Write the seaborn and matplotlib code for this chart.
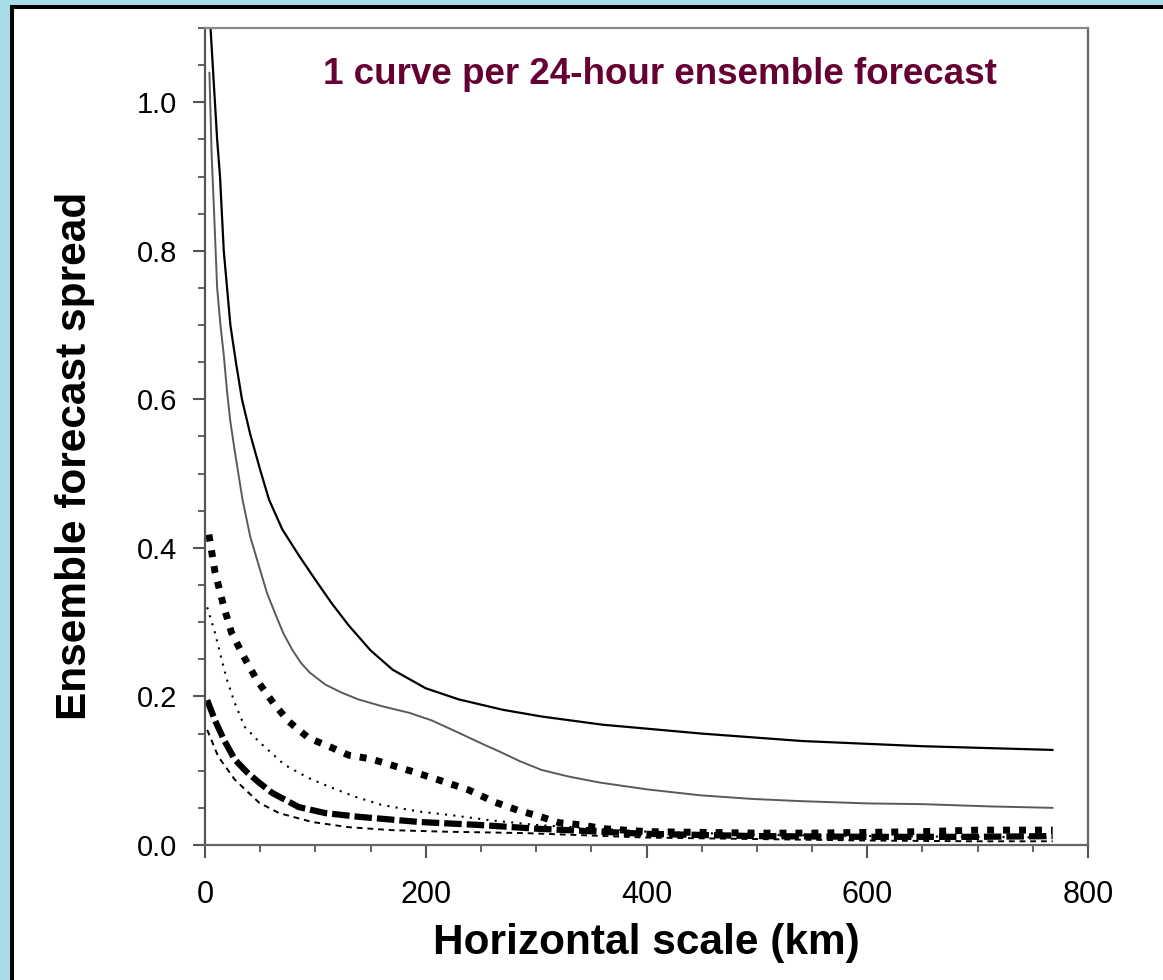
import numpy as np
import pandas as pd
import matplotlib
matplotlib.use("Agg")
import matplotlib.pyplot as plt
from matplotlib.patches import Rectangle
from matplotlib.ticker import MultipleLocator
import seaborn as sns

# ---- data ----
c1_x = [5, 7, 9, 11, 13.6, 17, 20, 23, 28, 33.5, 41, 50, 58, 70, 85, 100, 115, 130, 150, 170, 200, 230, 270, 305, 360, 450, 541, 650, 768]
c1_y = [1.10, 1.05, 1.00, 0.95, 0.90, 0.80, 0.75, 0.70, 0.65, 0.60, 0.553, 0.505, 0.465, 0.425, 0.39, 0.357, 0.325, 0.296, 0.262, 0.236, 0.211, 0.196, 0.182, 0.173, 0.162, 0.150, 0.140, 0.133, 0.128]

c2_x = [4, 6, 8, 11, 14, 17, 20, 23, 27, 34, 41, 49, 56, 64, 71, 79, 87, 95, 109, 124, 139, 160, 185, 205, 230, 250, 268, 285, 305, 330, 358, 400, 448, 496, 541, 600, 650, 710, 768]
c2_y = [1.04, 0.93, 0.86, 0.75, 0.70, 0.66, 0.61, 0.57, 0.53, 0.465, 0.415, 0.375, 0.34, 0.31, 0.285, 0.263, 0.245, 0.232, 0.216, 0.205, 0.196, 0.187, 0.178, 0.168, 0.151, 0.137, 0.125, 0.113, 0.101, 0.092, 0.084, 0.075, 0.067, 0.062, 0.059, 0.056, 0.055, 0.052, 0.050]

c3_x = [3.5, 9, 17, 24, 35, 47, 62, 76, 94, 115, 130, 150, 168, 190, 217, 239, 262, 283, 302, 321, 341, 361, 400, 450, 500, 550, 600, 650, 700, 768]
c3_y = [0.418, 0.368, 0.321, 0.286, 0.254, 0.222, 0.191, 0.166, 0.144, 0.131, 0.121, 0.116, 0.108, 0.098, 0.085, 0.074, 0.058, 0.047, 0.039, 0.030, 0.027, 0.022, 0.018, 0.017, 0.016, 0.016, 0.017, 0.018, 0.020, 0.020]

c4_x = [2, 9, 15, 20, 27, 36, 49, 72, 94, 115, 136, 160, 194, 224, 260, 300, 400, 500, 600, 700, 768]
c4_y = [0.32, 0.286, 0.25, 0.222, 0.191, 0.159, 0.139, 0.108, 0.090, 0.077, 0.065, 0.054, 0.045, 0.040, 0.033, 0.027, 0.018, 0.014, 0.012, 0.011, 0.010]

c5_x = [2, 9, 17, 27, 38, 49, 61, 85, 109, 139, 194, 248, 300, 400, 500, 600, 700, 768]
c5_y = [0.195, 0.168, 0.142, 0.115, 0.098, 0.084, 0.070, 0.051, 0.043, 0.038, 0.031, 0.027, 0.022, 0.015, 0.012, 0.011, 0.011, 0.012]

c6_x = [2, 12, 27, 49, 67, 97, 130, 169, 215, 290, 400, 500, 600, 700, 768]
c6_y = [0.155, 0.119, 0.088, 0.057, 0.043, 0.031, 0.024, 0.020, 0.018, 0.016, 0.010, 0.008, 0.006, 0.005, 0.005]

x_ticks = [0, 200, 400, 600, 800]
y_ticks = [0.0, 0.2, 0.4, 0.6, 0.8, 1.0]
y_tick_labels = ["0.0", "0.2", "0.4", "0.6", "0.8", "1.0"]

title_text = "1 curve per 24-hour ensemble forecast"
x_label = "Horizontal scale (km)"
y_label = "Ensemble forecast spread"

# ---- style ----
sns.set_style("ticks")
plt.rcParams["font.family"] = ["Liberation Sans", "DejaVu Sans"]

W, H = 1163, 980
fig = plt.figure(figsize=(W / 100, H / 100), dpi=100)
fig.patch.set_facecolor("#a9dce6")
fig.add_artist(Rectangle((12 / W, -0.1), 1.2, (1 - 7 / H) + 0.1,
                         transform=fig.transFigure, facecolor="white",
                         edgecolor="black", linewidth=2.9, zorder=0))

ax = fig.add_axes([205 / W, 135 / H, (1088 - 205) / W, (845 - 28) / H])
ax.set_facecolor("white")

curves = [
    (c1_x, c1_y, dict(color="black", lw=1.6, linestyle="-")),
    (c2_x, c2_y, dict(color="#5a5a5a", lw=1.4, linestyle="-")),
    (c3_x, c3_y, dict(color="black", lw=5.0, linestyle=(0, (1.0, 1.3)))),
    (c4_x, c4_y, dict(color="black", lw=1.5, linestyle=(0, (1, 3)))),
    (c5_x, c5_y, dict(color="black", lw=4.5, linestyle=(0, (2.8, 0.8)))),
    (c6_x, c6_y, dict(color="black", lw=1.4, linestyle=(0, (3, 2.5)))),
]
for xs, ys, kw in curves:
    df = pd.DataFrame({"x": xs, "y": ys})
    sns.lineplot(data=df, x="x", y="y", ax=ax, sort=False, estimator=None, **kw)

ax.set_xlim(0, 800)
ax.set_ylim(0, 1.1)
ax.set_xticks(x_ticks)
ax.set_xticklabels([str(t) for t in x_ticks])
ax.set_yticks(y_ticks)
ax.set_yticklabels(y_tick_labels)
ax.xaxis.set_minor_locator(MultipleLocator(50))
ax.yaxis.set_minor_locator(MultipleLocator(0.05))
ax.tick_params(which="major", direction="out", length=9, width=1.5, color="#555555",
               labelcolor="black")
ax.tick_params(which="minor", direction="out", length=5, width=1.3, color="#555555")
ax.tick_params(axis="x", which="major", pad=16, labelsize=22)
ax.tick_params(axis="y", which="major", pad=11, labelsize=21)

for side in ["left", "bottom", "right", "top"]:
    ax.spines[side].set_visible(True)
    ax.spines[side].set_linewidth(1.6)
ax.spines["left"].set_color("#555555")
ax.spines["bottom"].set_color("#666666")
ax.spines["right"].set_color("#666666")
ax.spines["top"].set_color("#888888")

ax.set_xlabel(x_label, fontsize=30.5, fontweight="bold", color="black")
ax.xaxis.set_label_coords(0.5, (845 - 943) / 817)
ax.xaxis.label.set_va("center")
ax.set_ylabel(y_label, fontsize=30.5, fontweight="bold", color="black")
ax.yaxis.set_label_coords((75 - 205) / 883, (845 - 456) / 817)
ax.yaxis.label.set_va("center")

fig.text(660 / W, 1 - 75 / H, title_text, fontsize=26.5, fontweight="bold",
         color="#660033", ha="center", va="center")

fig.savefig("out.png", dpi=100, facecolor=fig.get_facecolor())
